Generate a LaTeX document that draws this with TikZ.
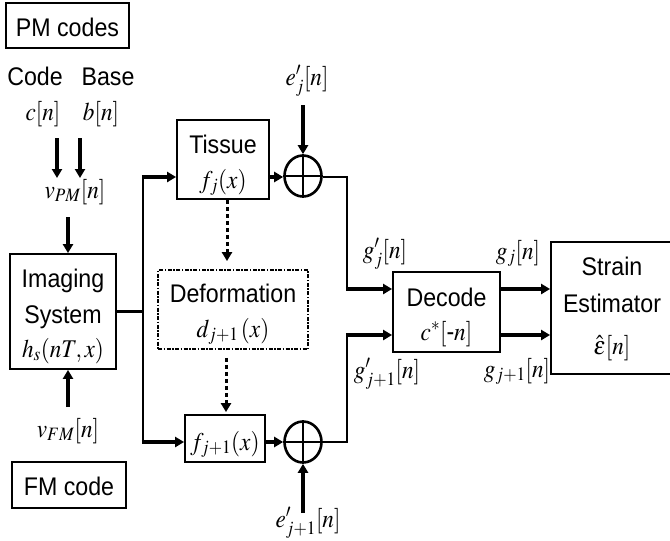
\documentclass[tikz,border=0pt]{standalone}
\usepackage{mathptmx}
\usepackage[no-math]{fontspec}
\setmainfont{Liberation Sans}
\usetikzlibrary{arrows.meta,shapes.geometric}

\begin{document}
\begin{tikzpicture}[x=1pt,y=-1pt,
  box/.style={draw, line width=1.8pt, inner sep=0pt},
  t/.style={inner sep=0pt, anchor=base, xscale=0.91},
  wire/.style={line width=2.5pt},
  arr/.style={line width=4.2pt, -{Triangle[length=9pt,width=10pt]}},
  darr/.style={line width=3pt, dash pattern=on 4.5pt off 2.5pt, -{Triangle[length=9pt,width=10pt]}},
  dashbox/.style={box, line width=1.8pt, dash pattern=on 4pt off 1.5pt on 1.5pt off 1.5pt},
  sumnode/.style={ellipse, draw, line width=2.6pt, minimum width=37pt, minimum height=41pt, inner sep=0pt},
  font=\fontsize{25.5}{30}\selectfont]
\useasboundingbox (0,0) rectangle (670,541);

% code sources
\node[box, minimum width=123pt, minimum height=45pt] (pm) at (67.5,25.5) {};
\node[t] (pmt) at (67.5,36) {PM codes};
\node[t] (code) at (35,85) {Code};
\node[t] (base) at (108,85) {Base};
\node[t] (cn) at (43,120) {$c[n]$};
\node[t] (bn) at (101,120) {$b[n]$};
\node[t] (vpm) at (75,198) {$v_{PM}[n]$};
\coordinate (cs) at (57,138); \coordinate (ce) at (57,178);
\coordinate (bs) at (80,138); \coordinate (be) at (80,178);
\draw[arr] (cs) -- (ce);
\draw[arr] (bs) -- (be);

% imaging system
\node[box, minimum width=106pt, minimum height=115pt] (img) at (63,311.5) {};
\node[t] (img1) at (63,287) {Imaging};
\node[t] (img2) at (63,323) {System};
\node[t] (img3) at (63,357) {$h_s(nT,x)$};
\coordinate (vpmb) at (68,217);
\draw[arr] (vpmb) -- (vpmb |- img.north);
\node[t] (vfm) at (68,437) {$v_{FM}[n]$};
\coordinate (vfmt) at (68,407);
\draw[arr] (vfmt) -- (vfmt |- img.south);
\node[box, minimum width=114pt, minimum height=46pt] (fm) at (69,485) {};
\node[t] (fmt) at (69,495) {FM code};

% tissue, deformation and deformed tissue
\node[box, minimum width=92pt, minimum height=79pt] (tis) at (223,159.5) {};
\node[t] (tis1) at (223,153) {Tissue};
\node[t] (tis2) at (223,188) {$f_j(x)$};
\node[dashbox, minimum width=150pt, minimum height=79pt] (dfm) at (233,309.5) {};
\node[t] (dfm1) at (233,302) {Deformation};
\node[t] (dfm2) at (233,337) {$d_{j+1}\,(x)$};
\node[box, minimum width=80pt, minimum height=47pt] (fj1) at (225,438.5) {};
\node[t] (fj1t) at (225,450) {$f_{j+1}(x)$};

% noise adders
\node[sumnode] (sa) at (303,176) {};
\node[sumnode] (sb) at (303,442) {};
\draw[wire] (sa.north) -- (sa.south) (sa.west) -- (sa.east);
\draw[wire] (sb.north) -- (sb.south) (sb.west) -- (sb.east);
\node[t] (ea) at (307,85) {$e'_{j}[n]$};
\node[t] (eb) at (308,527) {$e'_{j+1}[n]$};
\coordinate (eat) at (303,105);
\coordinate (ebt) at (303,513);
\draw[arr] (eat) -- (sa.north);
\draw[arr] (ebt) -- (sb.south);

% decoder and strain estimator
\node[box, minimum width=107pt, minimum height=80pt] (dec) at (446.5,312) {};
\node[t] (dec1) at (446.5,306) {Decode};
\node[t] (dec2) at (446.5,340) {$c^{*}[\mbox{-}n]$};
\node[box, minimum width=121pt, minimum height=132pt] (se) at (611.5,308) {};
\node[t] (se1) at (612,275) {Strain};
\node[t] (se2) at (612,312) {Estimator};
\node[t] (se3) at (612,354) {$\hat{\varepsilon}[n]$};
\coordinate (dia) at ([yshift=23pt]dec.west);
\coordinate (dib) at ([yshift=-23pt]dec.west);

% split of the imaging output
\coordinate (jn) at (143,311.5);
\coordinate (jt) at (143,177);
\coordinate (jb) at (143,442);
\draw[wire] (img.east) -- (jn);
\draw[wire] (jt) -- (jb);
\draw[arr] ([xshift=-1.2pt]jt) -- (jt -| tis.west);
\draw[arr] ([xshift=-1.2pt]jb) -- (jb -| fj1.west);
\draw[arr] (tis.east |- jt) -- (sa.west |- jt);
\draw[arr] (fj1.east |- sb) -- (sb.west);

% deformation links
\draw[darr, shorten >=8pt] ([xshift=4pt]tis.south) -- ([xshift=4pt]tis.south |- dfm.north);
\draw[darr, shorten <=8pt, shorten >=2pt] ([xshift=-7pt]dfm.south) -- ([xshift=-7pt]dfm.south |- fj1.north);

% to the decoder
\coordinate (ra) at (347,177);
\coordinate (rb) at (347,442);
\draw[wire] (sa.east |- ra) -- (ra) -- (ra |- dia);
\draw[wire] (sb.east) -- (rb) -- (rb |- dib);
\draw[arr] ([xshift=-1.2pt]ra |- dia) -- (dia);
\draw[arr] ([xshift=-1.2pt]rb |- dib) -- (dib);
\draw[arr] (dec.east |- dia) -- (se.west |- dia);
\draw[arr] (dec.east |- dib) -- (se.west |- dib);

% signal labels
\node[t] (gpa) at (385,258) {$g'_{j}[n]$};
\node[t] (gpb) at (387,378) {$g'_{j+1}[n]$};
\node[t] (ga) at (518,259) {$g_{j}[n]$};
\node[t] (gb) at (517,377) {$g_{j+1}[n]$};
\end{tikzpicture}
\end{document}
